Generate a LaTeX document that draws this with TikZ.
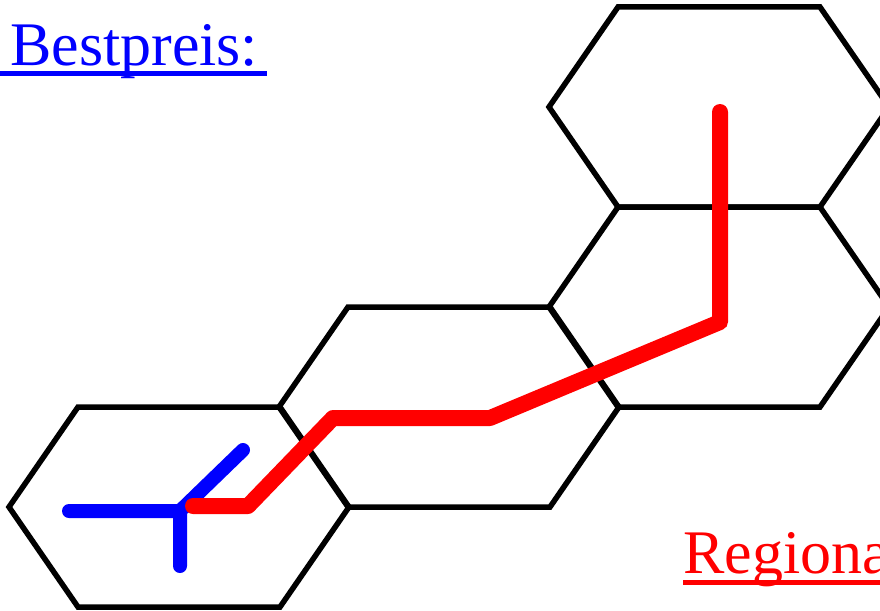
\documentclass[tikz,border=0pt]{standalone}
\usepackage{fontspec}
\setmainfont{Liberation Serif}
\begin{document}
\begin{tikzpicture}[x=1pt,y=-1pt,
 hexline/.style={draw=black,line width=5.5pt,line join=miter},
 bluepath/.style={draw=blue,line width=14pt,line cap=round,line join=round},
 redpath/.style={draw=red,line width=16pt,line cap=round,line join=round},
 captext/.style={inner sep=0pt,anchor=base west,font=\fontsize{62}{70}\selectfont}]
\useasboundingbox (0,0) rectangle (880,610);
\clip (0,0) rectangle (880,610);
\foreach \n/\cx/\cy in {1/179/507,2/449/407,3/719/307,4/719/107}{
  \coordinate (hex\n) at (\cx,\cy);
  \draw[hexline] (\cx-170,\cy) -- (\cx-101,\cy-100) -- (\cx+101,\cy-100) -- (\cx+170,\cy) -- (\cx+101,\cy+100) -- (\cx-101,\cy+100) -- cycle;
}
% blue junction
\coordinate (bj) at (180,511);
\coordinate (bl) at (69,511);
\coordinate (bd) at (180,566);
\coordinate (bu) at (243,450);
\draw[bluepath] (bl) -- (bj) -- (bd) (bj) -- (bu);
% red route
\coordinate (r0) at (193,506);
\coordinate (r1) at (248,506);
\coordinate (r2) at (333,418);
\coordinate (r3) at (490,418);
\coordinate (r4) at (720,322);
\coordinate (r5) at (720,112);
\draw[redpath] (r0) -- (r1) -- (r2) -- (r3) -- (r4) -- (r5);
% texts
\node[captext,text=blue] (best) at (10,65) {Bestpreis:};
\draw[blue,line width=4.5pt] (0,73.5) -- (267,73.5);
\node[captext,text=red] (reg) at (683,573) {Regiona};
\draw[red,line width=4.5pt] (683,582.5) -- (880,582.5);
\end{tikzpicture}
\end{document}
